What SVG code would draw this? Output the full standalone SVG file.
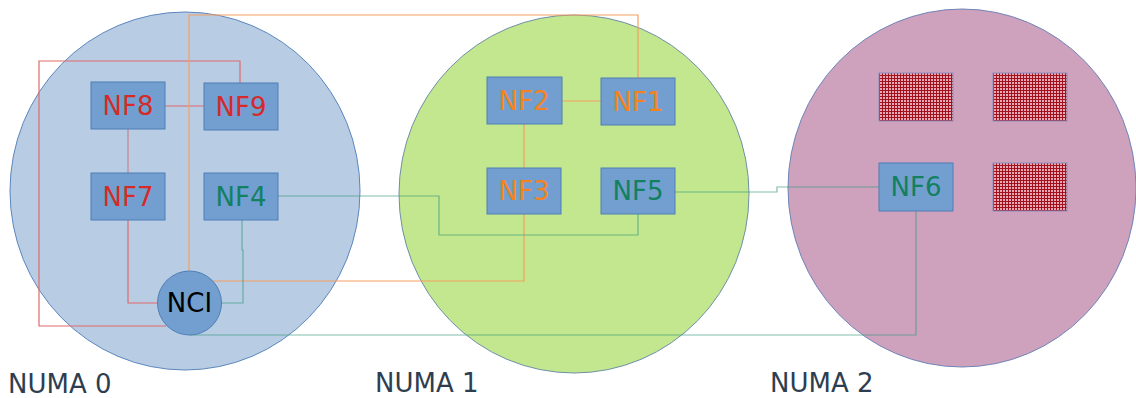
<svg xmlns="http://www.w3.org/2000/svg" width="1136" height="398" viewBox="0 0 1136 398">
  <defs>
    <pattern id="grid" width="3" height="3" patternUnits="userSpaceOnUse">
      <rect width="3" height="3" fill="#e7a9b4"/>
      <path d="M0 0.5H3M0.5 0V3" stroke="#a3101e" stroke-width="1"/>
    </pattern>
    <style>
      .zone-label { font-family: "DejaVu Sans", sans-serif; font-size: 26px; fill: #2e3e50; }
      .nf rect { fill: #729fcf; stroke: #4f7fb6; stroke-width: 1; }
      .nf text { font-family: "DejaVu Sans", sans-serif; font-size: 26px; text-anchor: middle; }
      .red { fill: #d42a2a; }
      .orange { fill: #f58220; }
      .teal { fill: #138060; }
      .busy { fill: url(#grid); stroke: #8a90c0; stroke-width: 1; }
      .conn { fill: none; stroke-width: 1.2; }
      .c-red { stroke: #e06a6a; }
      .c-pink { stroke: #c98390; }
      .c-orange { stroke: #f3a060; }
      .c-teal { stroke: #3c9a80; stroke-opacity: 0.65; }
    </style>
  </defs>

  <!-- NUMA domains -->
  <g id="numa0">
    <ellipse cx="185" cy="191" rx="175" ry="179" fill="#b8cce4" stroke="#5b86bd" stroke-width="1"/>
    <text class="zone-label" x="8" y="393">NUMA 0</text>
  </g>
  <g id="numa1">
    <ellipse cx="574" cy="194" rx="175" ry="179" fill="#c2e78e" stroke="#6f8fa6" stroke-width="1"/>
    <text class="zone-label" x="375" y="392">NUMA 1</text>
  </g>
  <g id="numa2">
    <ellipse cx="962" cy="188" rx="174" ry="179" fill="#cea1bd" stroke="#6f84b8" stroke-width="1"/>
    <text class="zone-label" x="770" y="392">NUMA 2</text>
  </g>

  <!-- links between functions -->
  <g id="connectors">
    <path class="conn c-red" d="M165 106H204"/>
    <path class="conn c-pink" d="M128 129V173"/>
    <path class="conn c-red" d="M240 83V61H39V326H166"/>
    <path class="conn c-red" d="M128 220V303H157"/>
    <path class="conn c-orange" d="M189 271V15H638V78"/>
    <path class="conn c-orange" d="M213 281H524V214"/>
    <path class="conn c-orange" d="M562 101H601"/>
    <path class="conn c-orange" d="M524 124V168"/>
    <path class="conn c-teal" d="M278 196H439V235H638V214"/>
    <path class="conn c-teal" d="M242 220V250H243V303H221"/>
    <path class="conn c-teal" d="M675 192H777V187H879"/>
    <path class="conn c-teal" d="M916 211V335H189"/>
  </g>

  <!-- NUMA 0 functions -->
  <g id="nf8" class="nf"><rect x="91" y="82" width="74" height="47"/><text class="red" x="128" y="115">NF8</text></g>
  <g id="nf9" class="nf"><rect x="204" y="83" width="74" height="47"/><text class="red" x="241" y="116">NF9</text></g>
  <g id="nf7" class="nf"><rect x="91" y="173" width="74" height="47"/><text class="red" x="128" y="206">NF7</text></g>
  <g id="nf4" class="nf"><rect x="204" y="173" width="74" height="47"/><text class="teal" x="241" y="206">NF4</text></g>
  <g id="nci" class="nf">
    <circle cx="189.5" cy="303" r="32" fill="#729fcf" stroke="#4f7fb6" stroke-width="1"/>
    <text x="189.5" y="312" fill="#000">NCI</text>
  </g>

  <!-- NUMA 1 functions -->
  <g id="nf2" class="nf"><rect x="487" y="77" width="75" height="47"/><text class="orange" x="524" y="110">NF2</text></g>
  <g id="nf1" class="nf"><rect x="601" y="78" width="74" height="47"/><text class="orange" x="638" y="111">NF1</text></g>
  <g id="nf3" class="nf"><rect x="487" y="168" width="74" height="46"/><text class="orange" x="524" y="200">NF3</text></g>
  <g id="nf5" class="nf"><rect x="601" y="168" width="74" height="46"/><text class="teal" x="638" y="200">NF5</text></g>

  <!-- NUMA 2 functions and occupied slots -->
  <g id="busy1"><rect class="busy" x="879" y="73" width="74" height="48"/></g>
  <g id="busy2"><rect class="busy" x="993" y="73" width="74" height="48"/></g>
  <g id="nf6" class="nf"><rect x="879" y="163" width="74" height="48"/><text class="teal" x="916" y="196">NF6</text></g>
  <g id="busy3"><rect class="busy" x="993" y="163" width="74" height="48"/></g>
</svg>
